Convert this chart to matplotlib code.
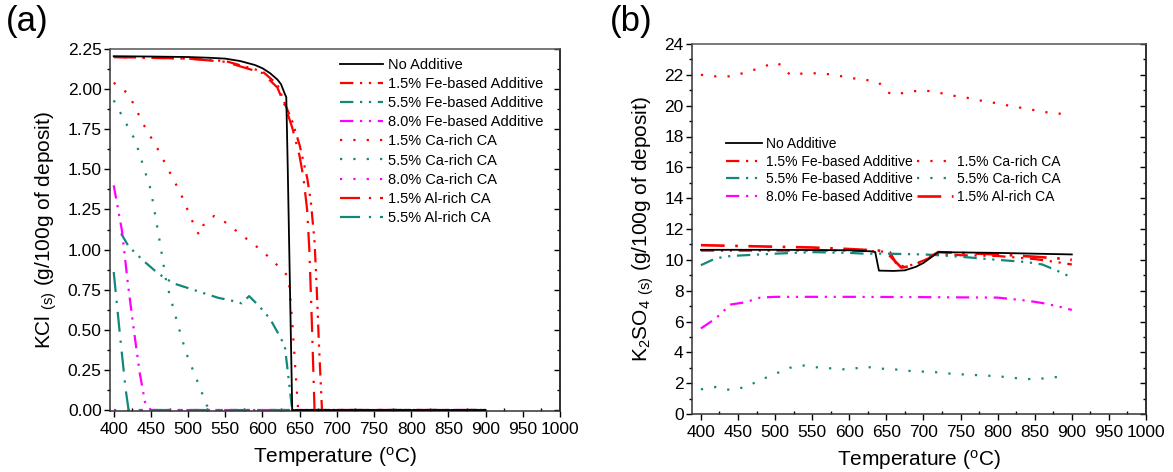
import matplotlib
matplotlib.use("Agg")
import matplotlib.pyplot as plt
from matplotlib.lines import Line2D
from matplotlib.ticker import MultipleLocator, FormatStrFormatter

plt.rcParams["font.family"] = ["Liberation Sans", "DejaVu Sans"]
plt.rcParams["mathtext.fontset"] = "custom"
plt.rcParams["mathtext.rm"] = "Liberation Sans"
plt.rcParams["mathtext.it"] = "Liberation Sans:italic"

RED = "#ff0000"
TEAL = "#13887a"
MAGENTA = "#ff00ff"

# line styles (Origin-like)
SOLID = "-"
DASH_DOT_DOT = (0, (6, 3, 1, 3, 1, 3))
DOT = (0, (1, 5))
DASH_DOT = (0, (9, 4, 1, 4))

# ---------------- (a) KCl(s) ----------------
a_no_add_t = [400, 450, 500, 530, 550, 570, 590, 600, 610, 620, 625, 630, 632, 634, 636, 638, 640, 900]
a_no_add_v = [2.205, 2.203, 2.2, 2.195, 2.19, 2.175, 2.15, 2.13, 2.10, 2.06, 2.03, 1.97, 1.95, 1.5, 1.0, 0.5, 0.0, 0.0]

a_fe15_t = [400, 500, 550, 600, 620, 630, 640, 650, 660, 665, 670, 673, 676, 680, 900]
a_fe15_v = [2.20, 2.19, 2.175, 2.11, 2.03, 1.91, 1.80, 1.65, 1.45, 1.30, 1.05, 0.75, 0.40, 0.0, 0.0]

a_fe55_t = [410, 420, 440, 460, 480, 500, 520, 540, 560, 572, 582, 595, 610, 622, 630, 635, 640, 900]
a_fe55_v = [1.10, 1.02, 0.93, 0.85, 0.79, 0.76, 0.73, 0.70, 0.68, 0.665, 0.71, 0.65, 0.57, 0.47, 0.40, 0.20, 0.0, 0.0]

a_fe80_t = [400, 411, 419, 427, 435, 442, 450, 900]
a_fe80_v = [1.40, 1.12, 0.79, 0.50, 0.23, 0.05, 0.0, 0.0]

a_ca15_t = [400, 420, 440, 460, 490, 510, 515, 520, 535, 550, 575, 600, 625, 635, 640, 645, 648, 900]
a_ca15_v = [2.04, 1.97, 1.78, 1.62, 1.35, 1.13, 1.09, 1.15, 1.21, 1.17, 1.08, 0.99, 0.88, 0.83, 0.55, 0.20, 0.0, 0.0]

a_ca55_t = [400, 429, 450, 463, 471, 484, 497, 515, 525, 530, 900]
a_ca55_v = [1.93, 1.68, 1.37, 1.02, 0.79, 0.57, 0.36, 0.15, 0.03, 0.0, 0.0]

a_ca80_t = [400, 900]
a_ca80_v = [0.0, 0.0]

a_al15_t = [400, 500, 550, 600, 620, 630, 640, 650, 655, 660, 663, 666, 668, 670, 900]
a_al15_v = [2.20, 2.19, 2.17, 2.10, 2.01, 1.90, 1.76, 1.58, 1.45, 1.25, 1.0, 0.6, 0.3, 0.0, 0.0]

a_al55_t = [400, 409, 416, 420, 900]
a_al55_v = [0.86, 0.44, 0.13, 0.0, 0.0]

# ---------------- (b) K2SO4(s) ----------------
b_no_add_t = [400, 500, 600, 630, 635, 640, 660, 675, 690, 700, 710, 720, 750, 800, 850, 900]
b_no_add_v = [10.65, 10.65, 10.62, 10.55, 10.5, 9.3, 9.28, 9.32, 9.55, 9.8, 10.15, 10.5, 10.48, 10.45, 10.4, 10.35]

b_fe15_t = [400, 450, 500, 550, 600, 640, 655, 665, 680, 700, 720, 750, 800, 850, 880, 900]
b_fe15_v = [10.6, 10.6, 10.6, 10.6, 10.6, 10.55, 10.5, 9.6, 9.6, 9.95, 10.4, 10.3, 10.25, 10.05, 9.85, 9.7]

b_fe55_t = [400, 420, 440, 460, 500, 550, 600, 620, 650, 700, 720, 750, 800, 840, 860, 880, 900]
b_fe55_v = [9.65, 10.1, 10.25, 10.3, 10.4, 10.5, 10.45, 10.4, 10.4, 10.35, 10.3, 10.2, 10.0, 9.85, 9.7, 9.3, 8.85]

b_fe80_t = [400, 420, 440, 460, 480, 500, 600, 700, 800, 820, 840, 860, 880, 900]
b_fe80_v = [5.55, 6.2, 7.1, 7.25, 7.55, 7.6, 7.6, 7.58, 7.55, 7.45, 7.35, 7.2, 7.0, 6.75]

b_ca15_t = [400, 420, 440, 460, 480, 500, 510, 520, 540, 560, 580, 600, 620, 640, 650, 660, 680, 700,
            720, 740, 760, 780, 800, 820, 840, 860, 880, 900]
b_ca15_v = [22.0, 21.9, 21.9, 22.15, 22.45, 22.8, 22.6, 22.0, 22.1, 22.1, 22.0, 21.8, 21.7, 21.5, 20.9, 20.7,
            20.9, 21.0, 20.85, 20.65, 20.5, 20.3, 20.15, 19.95, 19.8, 19.6, 19.5, 19.4]

b_ca55_t = [400, 420, 440, 460, 480, 500, 520, 540, 560, 580, 600, 620, 640, 660, 680, 700, 720, 740,
            760, 780, 800, 820, 840, 860, 880, 890]
b_ca55_v = [1.6, 1.75, 1.55, 1.75, 2.2, 2.6, 3.0, 3.15, 3.0, 2.95, 2.87, 3.08, 2.95, 2.9, 2.8, 2.75, 2.7,
            2.6, 2.55, 2.5, 2.45, 2.35, 2.26, 2.3, 2.4, 2.45]

b_al15_t = [400, 450, 500, 550, 600, 640, 650, 660, 670, 685, 700, 720, 750, 800, 850, 880, 900]
b_al15_v = [10.95, 10.9, 10.85, 10.8, 10.7, 10.6, 10.5, 10.0, 9.5, 9.6, 9.95, 10.5, 10.45, 10.35, 10.2, 10.1, 10.0]


def style_axes(ax, xlim, ylim, y_major, y_minor, y_fmt):
    ax.set_xlim(xlim)
    ax.set_ylim(ylim)
    ax.xaxis.set_major_locator(MultipleLocator(50))
    ax.xaxis.set_minor_locator(MultipleLocator(25))
    ax.yaxis.set_major_locator(MultipleLocator(y_major))
    ax.yaxis.set_minor_locator(MultipleLocator(y_minor))
    ax.yaxis.set_major_formatter(FormatStrFormatter(y_fmt))
    ax.tick_params(which="major", direction="out", length=4, width=1, labelsize=12.5, pad=2)
    ax.tick_params(which="minor", direction="out", length=2.5, width=1)
    ax.tick_params(axis="x", which="minor", direction="in")
    ax.tick_params(axis="x", which="major", pad=4)
    for sp in ax.spines.values():
        sp.set_linewidth(1.1)
        sp.set_color("#333333")
    ax.spines["top"].set_color("#555555")
    # right-hand ticks point inwards
    sec = ax.secondary_yaxis("right")
    sec.yaxis.set_major_locator(MultipleLocator(y_major))
    sec.yaxis.set_minor_locator(MultipleLocator(y_minor))
    sec.tick_params(which="major", direction="in", length=4, width=1, labelright=False)
    sec.tick_params(which="minor", direction="in", length=2.5, width=1)
    sec.spines["right"].set_linewidth(1.1)
    ax.set_xlabel(r"Temperature ($^{\rm o}$C)", fontsize=15, labelpad=6)


fig = plt.figure(figsize=(11.73, 4.72), dpi=100)
W, H = 1173.0, 472.0

# ---- panel (a)
ax1 = fig.add_axes([110 / W, 1 - 411 / H, 450 / W, 362 / H])
lw = 1.6
ax1.plot(a_fe15_t, a_fe15_v, color=RED, ls=DASH_DOT_DOT, lw=lw, label="1.5% Fe-based Additive")
ax1.plot(a_fe55_t, a_fe55_v, color=TEAL, ls=DASH_DOT_DOT, lw=lw, label="5.5% Fe-based Additive")
ax1.plot(a_fe80_t, a_fe80_v, color=MAGENTA, ls=DASH_DOT_DOT, lw=lw, label="8.0% Fe-based Additive")
ax1.plot(a_ca15_t, a_ca15_v, color=RED, ls=DOT, lw=lw, label="1.5% Ca-rich CA")
ax1.plot(a_ca55_t, a_ca55_v, color=TEAL, ls=DOT, lw=lw, label="5.5% Ca-rich CA")
ax1.plot(a_ca80_t, a_ca80_v, color=MAGENTA, ls=DOT, lw=lw, label="8.0% Ca-rich CA")
ax1.plot(a_al15_t, a_al15_v, color=RED, ls=DASH_DOT, lw=lw, label="1.5% Al-rich CA")
ax1.plot(a_al55_t, a_al55_v, color=TEAL, ls=DASH_DOT, lw=lw, label="5.5% Al-rich CA")
ax1.plot(a_no_add_t, a_no_add_v, color="black", ls=SOLID, lw=1.3, label="No Additive", zorder=5)
style_axes(ax1, (395, 1000), (-0.006, 2.25), 0.25, 0.125, "%.2f")
ax1.set_ylabel(r"KCl $_{\rm (s)}$ (g/100g of deposit)", fontsize=15, labelpad=6)

h, l = ax1.get_legend_handles_labels()
order = [8, 0, 1, 2, 3, 4, 5, 6, 7]
ax1.legend([h[i] for i in order], [l[i] for i in order], loc="upper left",
           bbox_to_anchor=(0.51, 0.975), frameon=False, fontsize=10.5,
           labelspacing=0.35, handlelength=3.0, handletextpad=0.3, borderpad=0, borderaxespad=0)

# ---- panel (b)
ax2 = fig.add_axes([692 / W, 1 - 414 / H, 454 / W, 370 / H])
ax2.plot(b_fe15_t, b_fe15_v, color=RED, ls=DASH_DOT_DOT, lw=lw, label="1.5% Fe-based Additive")
ax2.plot(b_fe55_t, b_fe55_v, color=TEAL, ls=DASH_DOT_DOT, lw=lw, label="5.5% Fe-based Additive")
ax2.plot(b_fe80_t, b_fe80_v, color=MAGENTA, ls=DASH_DOT_DOT, lw=lw, label="8.0% Fe-based Additive")
ax2.plot(b_ca15_t, b_ca15_v, color=RED, ls=DOT, lw=lw, label="1.5% Ca-rich CA")
ax2.plot(b_ca55_t, b_ca55_v, color=TEAL, ls=DOT, lw=lw, label="5.5% Ca-rich CA")
ax2.plot(b_al15_t, b_al15_v, color=RED, ls=DASH_DOT, lw=1.9, label="1.5% Al-rich CA")
ax2.plot(b_no_add_t, b_no_add_v, color="black", ls=SOLID, lw=1.3, label="No Additive", zorder=5)
style_axes(ax2, (388, 1000), (0, 24), 2, 1, "%d")
ax2.set_ylabel(r"K$_2$SO$_4$ $_{\rm (s)}$ (g/100g of deposit)", fontsize=15, labelpad=6)

h, l = ax2.get_legend_handles_labels()
blank = Line2D([], [], color="none")
handles = [h[6], h[0], h[1], h[2], blank, h[3], h[4], h[5]]
labels = [l[6], l[0], l[1], l[2], "", l[3], l[4], l[5]]
ax2.legend(handles, labels, ncol=2, loc="upper left", bbox_to_anchor=(0.075, 0.748),
           frameon=False, fontsize=10, labelspacing=0.25, handlelength=2.6,
           handletextpad=0.3, columnspacing=0.25, borderpad=0, borderaxespad=0)

fig.text(6 / W, 1 - 22 / H, "(a)", fontsize=25, va="center", ha="left")
fig.text(610 / W, 1 - 22 / H, "(b)", fontsize=25, va="center", ha="left")

fig.savefig("out.png", dpi=100)
